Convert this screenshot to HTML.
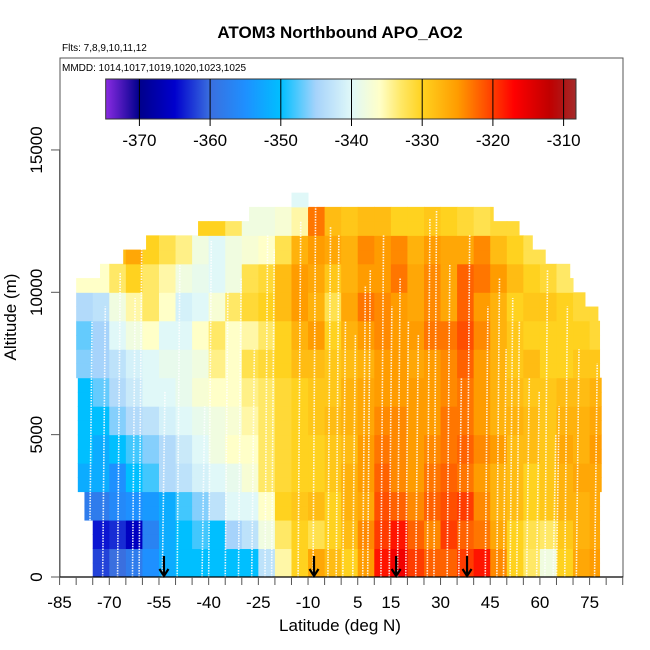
<!DOCTYPE html>
<html><head><meta charset="utf-8"><style>
body{margin:0;background:#fff;}
svg{display:block;font-family:"Liberation Sans",sans-serif;}
</style></head><body>
<svg id="c" width="650" height="650" viewBox="0 0 650 650">
<defs>
<linearGradient id="cbg" x1="0" x2="1" y1="0" y2="0"></linearGradient>
<clipPath id="pc"><rect x="60" y="58" width="563" height="519"/></clipPath>
</defs>
<text x="340" y="38" text-anchor="middle" font-size="17" font-weight="bold">ATOM3 Northbound APO_AO2</text>
<text x="62" y="51" font-size="10">Flts: 7,8,9,10,11,12</text>
<g id="heat" clip-path="url(#pc)"></g>
<g id="prof" clip-path="url(#pc)"></g>
<g id="arrows"></g>
<rect x="60" y="58" width="563" height="519" fill="none" stroke="#555" stroke-width="1"/>
<text x="62" y="71" font-size="10">MMDD: 1014,1017,1019,1020,1023,1025</text>
<g id="cbar"></g>
<g id="xaxis"></g>
<g id="yaxis"></g>
<text x="340" y="631" text-anchor="middle" font-size="17">Latitude (deg N)</text>
<text transform="translate(16,317) rotate(-90)" text-anchor="middle" font-size="17">Altitude (m)</text>
</svg>
<script>
// lat bins: 5 deg from -80; alt bins: 1000 m from 0
const latStart = -80, latStep = 5;
const altStep = 1000;
const vals = [
[null,-362,-360,-358,-355,-352,-350,-350,-350,-350,-350,-343,-335,-330,-326,-328,-330,-325,-318,-316,-320,-322,-322,-320,-318,-324,-330,-333,-338,-330,-326,-325],
[null,-364,-363,-366,-357,-352,-350,-348,-350,-345,-343,-338,-333,-330,-332,-330,-328,-324,-320,-318,-322,-324,-320,-322,-323,-326,-330,-332,-333,-329,-327,-326],
[-358,-358,-356,-355,-354,-352,-348,-346,-343,-340,-340,-336,-330,-329,-328,-330,-327,-326,-321,-322,-324,-322,-321,-320,-324,-327,-328,-330,-329,-327,-327,-326],
[-352,-352,-355,-350,-348,-344,-343,-341,-340,-339,-337,-333,-331,-330,-330,-329,-327,-325,-322,-324,-325,-323,-322,-323,-325,-327,-328,-330,-329,-327,-326,-326],
[-350,-352,-350,-348,-346,-344,-342,-340,-338,-336,-336,-333,-331,-330,-330,-329,-328,-325,-323,-324,-325,-324,-323,-322,-324,-325,-328,-328,-329,-326,-327,-325],
[-350,-350,-346,-344,-343,-341,-340,-339,-338,-337,-335,-333,-331,-330,-329,-328,-327,-326,-324,-324,-325,-325,-323,-323,-325,-327,-327,-328,-329,-327,-327,-326],
[-350,-347,-344,-342,-340,-340,-339,-337,-336,-336,-334,-333,-331,-330,-329,-329,-327,-326,-325,-325,-325,-325,-324,-323,-325,-327,-328,-329,-329,-328,-328,-327],
[-346,-345,-343,-341,-340,-339,-339,-338,-334,-336,-332,-331,-330,-328,-328,-329,-328,-327,-325,-325,-326,-325,-324,-322,-325,-327,-329,-328,-330,-330,-329,-329],
[-347,-345,-340,-338,-336,-340,-340,-336,-333,-336,-335,-333,-330,-327,-325,-330,-327,-325,-324,-325,-325,-323,-323,-321,-324,-327,-329,-330,-330,-330,-330,-331],
[-344,-343,-338,-335,-333,-336,-341,-340,-337,-333,-331,-330,-328,-325,-327,-332,-326,-323,-324,-325,-326,-324,-326,-322,-325,-327,-330,-329,-329,-330,-331,-331],
[-336,-336,-333,-330,-333,-335,-338,-339,-340,-338,-332,-331,-328,-325,-326,-329,-327,-325,-325,-323,-326,-324,-326,-322,-323,-325,-328,-330,-331,-333,-333,null],
[null,null,-328,-326,-330,-332,-334,-338,-340,-338,-337,-336,-332,-327,-325,-326,-327,-324,-325,-324,-327,-325,-326,-326,-324,-328,-330,-332,-332,null,null,null],
[null,null,null,null,null,null,null,-330,-330,-333,-338,-338,-337,-335,-323,-328,-329,-328,-328,-330,-330,-329,-330,-331,-332,-331,-331,null,null,null,null,null],
[null,null,null,null,null,null,null,null,null,null,null,null,null,-340,-341,null,null,null,null,null,null,null,null,null,null,null,null,null,null,null,null,null]
];
// observed coverage per 500 m row (0..13500)
const rowLatMin = [-76.4,-76.4,-77.5,-77.5,-77.5,-77.5,-79.5,-79.5,-79.5,-79.5,-79.5,-79.5,-79.5,-79.5,-80,-80,-80,-80,-80.6,-80.3,-80,-72.8,-65.8,-58.9,-43.2,-27.8,-17];
const rowLatMax = [78,78,78,78,78,78,78.5,78.5,78.5,78.5,78.5,78.5,78.5,78.5,78,78,78,78,77.5,73.6,70,69,61.6,57.7,53.7,45.9,-10];
const profLats = [-76,-72,-67.5,-63,-61,-54,-49.5,-42,-40,-35,-31,-27,-23,-21,-13,-8.5,-4,-1.5,0.5,3.5,6.5,8,12,14.5,17,19.5,22.5,26,28,32,35.5,38,43.5,47,49,51,53,56,59,61.5,64,65,67.5,71,76.5];
const profTops = [9000,9500,10700,9800,11800,6500,11000,6000,11800,10000,10500,8000,12000,11500,12500,13200,12300,12000,9000,8500,10200,10800,12000,9500,10500,9000,8500,12600,12900,11000,7000,12000,9500,10500,8000,9800,9000,7000,6500,10800,5000,6000,9500,8000,7500];
const arrowLats = [-53.5,-8.2,16.6,38];
const cbTicks = [-370,-360,-350,-340,-330,-320,-310];
const xTickLabels = [-85,-70,-55,-40,-25,-10,5,15,30,45,60,75];
const yTickVals = [0,5000,10000,15000];

const NS='http://www.w3.org/2000/svg';
function mk(t,a,p){const e=document.createElementNS(NS,t);for(const k in a)e.setAttribute(k,a[k]);p.appendChild(e);return e;}
const X = lat => 59.6 + (lat+85)*3.3125;
const Y = alt => 577 - alt*0.02847;
const CBX = v => 139.4 + (v+370)*7.07;
const cmapStops = [[-375,'#8a2be2'],[-370,'#00008b'],[-365,'#0000cd'],[-360,'#3a6fdf'],[-355,'#1e90ff'],[-350,'#00bfff'],[-345,'#a6d3fb'],[-340,'#e0f8f8'],[-336,'#ffffc8'],[-333,'#ffe866'],[-330,'#ffd21f'],[-325,'#ff9c00'],[-320,'#ff3c00'],[-317,'#ff0000'],[-312,'#c00000'],[-310,'#b01515'],[-308,'#a52a2a']];
function hex(h){return [1,3,5].map(i=>parseInt(h.substr(i,2),16));}
function cmap(v){
  if(v<=cmapStops[0][0])return cmapStops[0][1];
  for(let i=1;i<cmapStops.length;i++){if(v<=cmapStops[i][0]){const [a,ca]=cmapStops[i-1],[b,cb]=cmapStops[i];const t=(v-a)/(b-a);const A=hex(ca),B=hex(cb);return 'rgb('+A.map((x,j)=>Math.round(x+(B[j]-x)*t)).join(',')+')';}}
  return cmapStops[cmapStops.length-1][1];
}
const heat=document.getElementById('heat');
for(let r=0;r<rowLatMin.length;r++){
  const mr=vals[Math.floor(r/2)]; if(!mr)continue;
  const a0=r*500,a1=a0+500;
  for(let c=0;c<mr.length;c++){
    const v=mr[c]; if(v===null)continue;
    let l0=latStart+c*latStep,l1=l0+latStep;
    l0=Math.max(l0,rowLatMin[r]); l1=Math.min(l1,rowLatMax[r]);
    if(l1<=l0)continue;
    const e=mk('rect',{x:X(l0),y:Y(a1),width:X(l1)-X(l0)+0.5,height:Y(a0)-Y(a1)+0.5,fill:cmap(v)},heat);
    
    
  }
}
const prof=document.getElementById('prof');
profLats.forEach((lat,i)=>{
  const e=mk('line',{x1:X(lat),y1:Y(0),x2:X(lat+0.8),y2:Y(profTops[i]),stroke:'#fff','stroke-width':1.6,'stroke-dasharray':'1.5,1.2',opacity:0.9},prof);
  
  
});
const ar=document.getElementById('arrows');
arrowLats.forEach(lat=>{
  const x=X(lat);
  const g=mk('g',{},ar);
  
  
  mk('line',{x1:x,y1:556,x2:x,y2:576,stroke:'#000','stroke-width':2.2},g);
  mk('polyline',{points:`${x-4.5},${569} ${x},${576} ${x+4.5},${569}`,fill:'none',stroke:'#000','stroke-width':2.2},g);
});
const grad=document.getElementById('cbg');
const cbL=105.7,cbR=576;
cmapStops.forEach(([v,c])=>{mk('stop',{offset:((CBX(v)-cbL)/(cbR-cbL)*100).toFixed(2)+'%','stop-color':c},grad);});
const cb=document.getElementById('cbar');
mk('rect',{x:cbL,y:79,width:cbR-cbL,height:40,fill:'url(#cbg)',stroke:'#333','stroke-width':1},cb);
cbTicks.forEach(v=>{
  const x=CBX(v);
  const l=mk('line',{x1:x,y1:79,x2:x,y2:126,stroke:'#000','stroke-width':1},cb);
  
  
  const t=mk('text',{x:x,y:146,'text-anchor':'middle','font-size':17},cb);
  t.textContent=v;
  
  
});
const xa=document.getElementById('xaxis');
mk('line',{x1:59.6,y1:577,x2:623,y2:577,stroke:'#000','stroke-width':1.2},xa);
for(let lat=-85;lat<=85;lat+=5){
  const t=mk('line',{x1:X(lat),y1:577,x2:X(lat),y2:585,stroke:'#555','stroke-width':1},xa);
  
  
}
xTickLabels.forEach(v=>{
  const t=mk('text',{x:X(v),y:608,'text-anchor':'middle','font-size':17},xa);
  t.textContent=v;
  
  
});
const ya=document.getElementById('yaxis');
mk('line',{x1:59.6,y1:Y(0),x2:59.6,y2:Y(15000),stroke:'#555','stroke-width':1},ya);
yTickVals.forEach(v=>{
  const t=mk('line',{x1:51,y1:Y(v),x2:59.6,y2:Y(v),stroke:'#555','stroke-width':1},ya);
  
  
  const tx=mk('text',{transform:`translate(42,${Y(v)}) rotate(-90)`,'text-anchor':'middle','font-size':17},ya);
  tx.textContent=v;
  
  
});
</script>
</body></html>
